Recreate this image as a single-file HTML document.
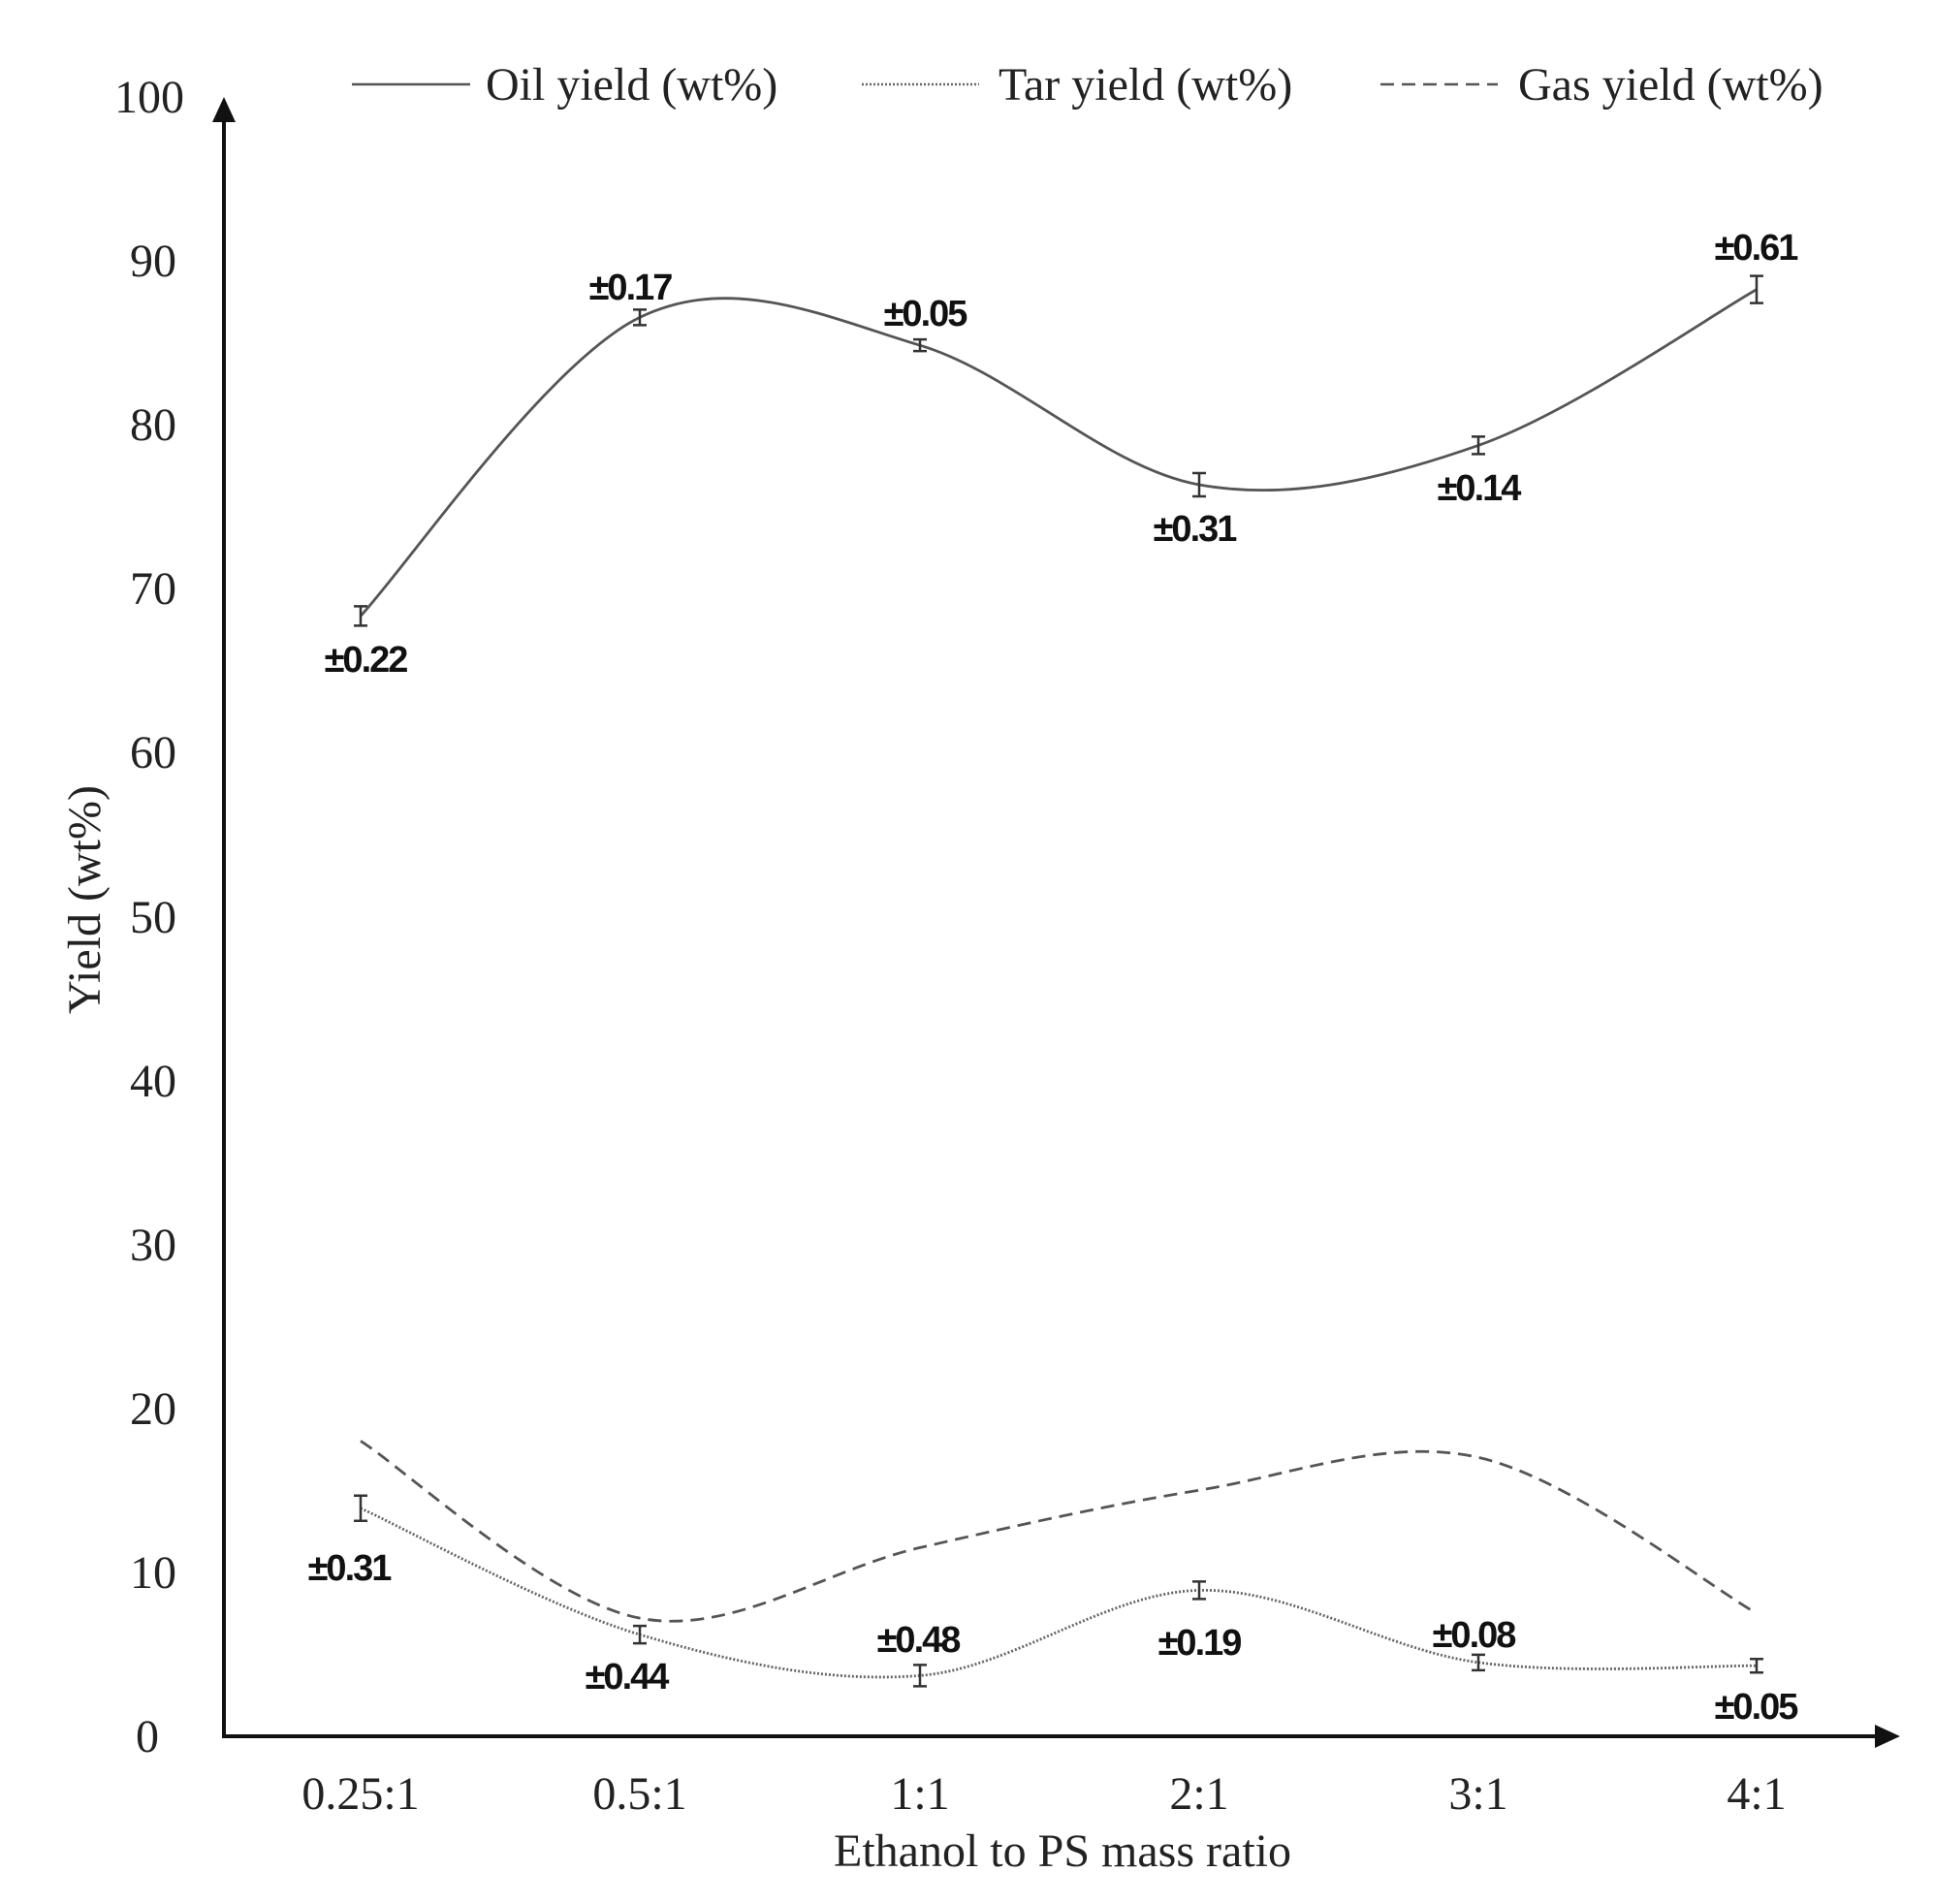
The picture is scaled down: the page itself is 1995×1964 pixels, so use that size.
<!DOCTYPE html>
<html><head><meta charset="utf-8"><style>
html,body{margin:0;padding:0;background:#fff;}
svg{display:block;}
.t{font-family:"Liberation Serif",serif;font-size:48px;fill:#222;}
.e{font-family:"Liberation Sans",sans-serif;font-weight:bold;font-size:38px;fill:#111;letter-spacing:-2px;}
</style></head><body>
<svg id="s" width="1995" height="1964" viewBox="0 0 1995 1964" xmlns="http://www.w3.org/2000/svg">
<rect width="1995" height="1964" fill="#fff"/>
<line x1="231" y1="1791" x2="231" y2="118" stroke="#111" stroke-width="4"/>
<polygon points="231,100 219,126 243,126" fill="#111"/>
<line x1="229" y1="1791" x2="1940" y2="1791" stroke="#111" stroke-width="4"/>
<polygon points="1960,1791 1934,1779 1934,1803" fill="#111"/>
<g class="t" text-anchor="middle">
<text x="152" y="1807">0</text>
<text x="158" y="1638">10</text>
<text x="158" y="1469">20</text>
<text x="158" y="1300">30</text>
<text x="158" y="1131">40</text>
<text x="158" y="962">50</text>
<text x="158" y="792">60</text>
<text x="158" y="623">70</text>
<text x="158" y="454">80</text>
<text x="158" y="285">90</text>
<text x="154" y="116">100</text>
<text x="372" y="1866">0.25:1</text>
<text x="660" y="1866">0.5:1</text>
<text x="949" y="1866">1:1</text>
<text x="1237" y="1866">2:1</text>
<text x="1525" y="1866">3:1</text>
<text x="1812" y="1866">4:1</text>
<text x="1096" y="1925">Ethanol to PS mass ratio</text>
<text x="0" y="0" transform="translate(103,928) rotate(-90)">Yield (wt%)</text>
</g>
<line x1="363" y1="87" x2="485" y2="87" stroke="#555" stroke-width="2.5"/>
<text class="t" x="501" y="103">Oil yield (wt%)</text>
<line x1="889" y1="87" x2="1010" y2="87" stroke="#666" stroke-width="2.5" stroke-dasharray="2 2"/>
<text class="t" x="1030" y="103">Tar yield (wt%)</text>
<line x1="1424" y1="87" x2="1545" y2="87" stroke="#555" stroke-width="2.5" stroke-dasharray="14 8"/>
<text class="t" x="1566" y="103">Gas yield (wt%)</text>
<g id="curves"></g>
<g id="bars" stroke="#333" stroke-width="2.5"></g>
<g class="e" text-anchor="middle">
<text x="377" y="693">±0.22</text>
<text x="650" y="309">±0.17</text>
<text x="954" y="336">±0.05</text>
<text x="1232" y="558">±0.31</text>
<text x="1525" y="516">±0.14</text>
<text x="1811" y="268">±0.61</text>
<text x="360" y="1630">±0.31</text>
<text x="646" y="1742">±0.44</text>
<text x="947" y="1704">±0.48</text>
<text x="1237" y="1707">±0.19</text>
<text x="1520" y="1699">±0.08</text>
<text x="1811" y="1773">±0.05</text>
</g>
</svg>
<script>
var X=[372,660,949,1237,1525,1812];
function Y(v){return 1791-16.92*v;}
function path(vals){
 var P=vals.map(function(v,i){return [X[i],Y(v)];});
 var d="M"+P[0][0]+","+P[0][1];
 for(var i=0;i<P.length-1;i++){
  var p0=P[Math.max(i-1,0)],p1=P[i],p2=P[i+1],p3=P[Math.min(i+2,P.length-1)];
  var c1=[p1[0]+(p2[0]-p0[0])/6,p1[1]+(p2[1]-p0[1])/6];
  var c2=[p2[0]-(p3[0]-p1[0])/6,p2[1]-(p3[1]-p1[1])/6];
  d+=" C"+c1.join(",")+" "+c2.join(",")+" "+p2.join(",");
 }
 return d;
}
var ns="http://www.w3.org/2000/svg",g=document.getElementById("curves");
function add(vals,dash,col){var p=document.createElementNS(ns,"path");p.setAttribute("d",path(vals));p.setAttribute("fill","none");p.setAttribute("stroke",col);p.setAttribute("stroke-width","2.8");if(dash)p.setAttribute("stroke-dasharray",dash);g.appendChild(p);}
var oil=[68.3,86.5,84.8,76.3,78.7,88.2],tar=[13.9,6.2,3.7,8.9,4.5,4.3],gas=[18,7.2,11.5,15,17,7.5];
add(oil,null,"#555");add(tar,"2 2","#666");add(gas,"14 8","#555");
var b=document.getElementById("bars");
function bar(x,y,h){var d="M"+(x-7)+","+(y-h)+"H"+(x+7)+"M"+x+","+(y-h)+"V"+(y+h)+"M"+(x-7)+","+(y+h)+"H"+(x+7);var p=document.createElementNS(ns,"path");p.setAttribute("d",d);p.setAttribute("fill","none");b.appendChild(p);}
var oh=[10,8,6,12,9,14],th=[13,9,11,9,8,7];
for(var i=0;i<6;i++){bar(X[i],Y(oil[i]),oh[i]);bar(X[i],Y(tar[i]),th[i]);}
</script>
</body></html>
